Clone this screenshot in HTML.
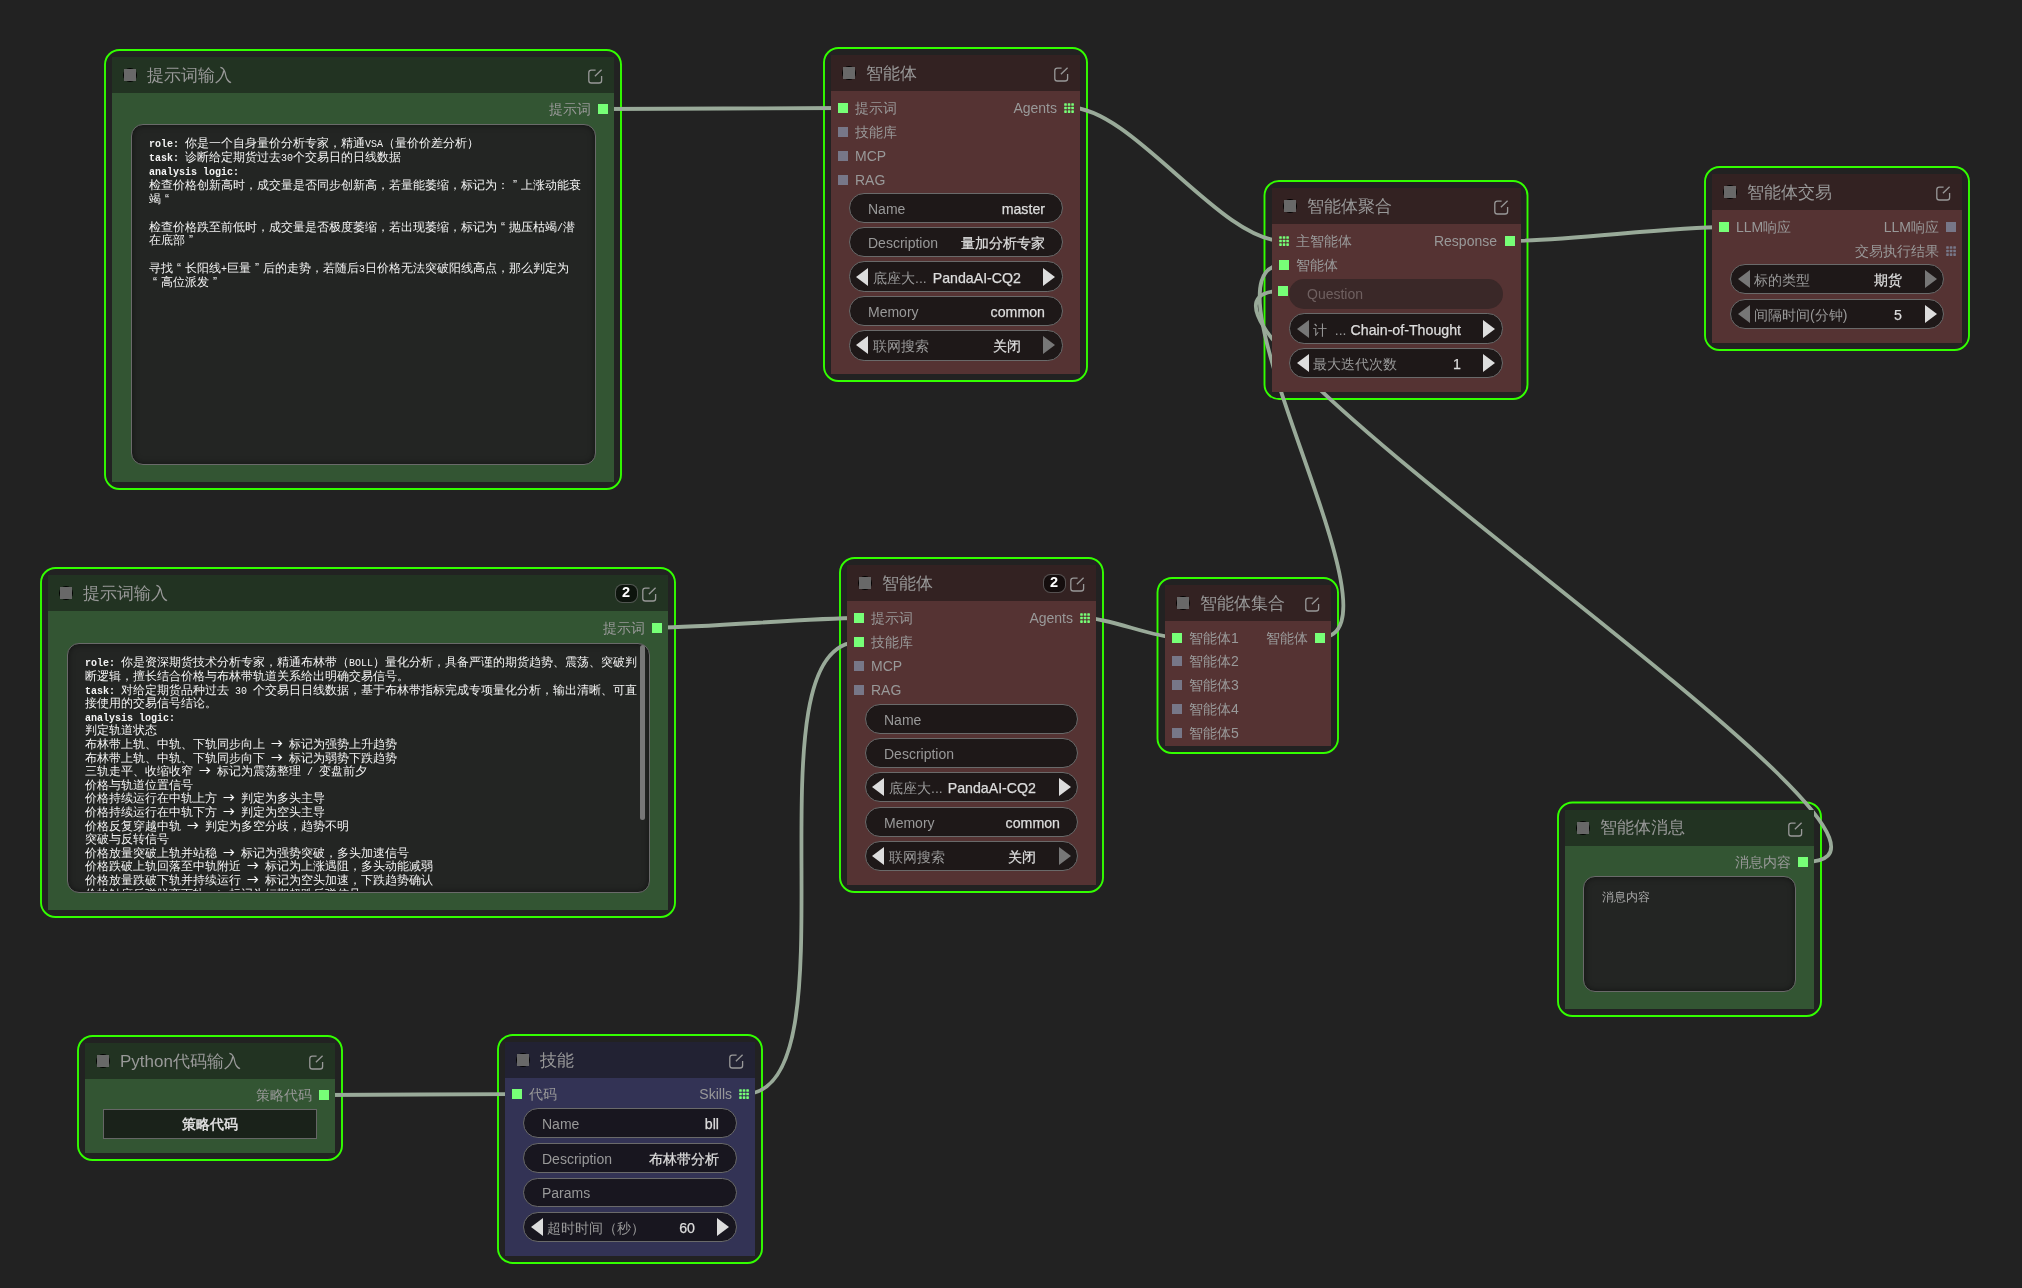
<!DOCTYPE html>
<html><head><meta charset="utf-8"><title>graph</title>
<style>
html,body{margin:0;padding:0;}
body{width:2022px;height:1288px;overflow:hidden;position:relative;background:#222222;font-family:'Liberation Sans', sans-serif;}
div{position:absolute;}
.t{white-space:pre;will-change:transform;}
</style></head><body>
<svg style="position:absolute;left:0;top:0" width="2022" height="1288"><g fill="none" stroke="#33ff00" stroke-width="1.9"><rect x="105.00" y="50.00" width="516.00" height="439.00" rx="14.5" ry="14.5"/><rect x="824.00" y="48.00" width="263.00" height="333.00" rx="14.5" ry="14.5"/><rect x="1264.50" y="181.00" width="263.00" height="218.00" rx="14.5" ry="14.5"/><rect x="1705.00" y="167.00" width="264.00" height="183.00" rx="14.5" ry="14.5"/><rect x="41.00" y="568.00" width="634.00" height="349.00" rx="14.5" ry="14.5"/><rect x="840.00" y="558.00" width="263.00" height="334.00" rx="14.5" ry="14.5"/><rect x="1157.50" y="578.00" width="180.50" height="175.00" rx="14.5" ry="14.5"/><rect x="1558.00" y="802.50" width="263.00" height="213.50" rx="14.5" ry="14.5"/><rect x="78.00" y="1036.00" width="264.00" height="124.00" rx="14.5" ry="14.5"/><rect x="498.00" y="1035.00" width="264.00" height="228.00" rx="14.5" ry="14.5"/></g></svg>
<svg style="position:absolute;left:0;top:0" width="2022" height="1288"><g fill="none" stroke="#99aa99" stroke-width="3.8"><path d="M604 109C663.75 109 783.25 108 843 108"/><path d="M1069.5 107.5C1132.45 107.5 1220.05 241 1283 241"/><path d="M1510 241C1563.61 241 1670.39 227 1724 227"/><path d="M1086 618C1109.14 618 1153.36 637.5 1176.5 637.5"/><path d="M1320 637.5C1413.58 637.5 1189.42 265 1283 265"/><path d="M657 627.5C707.56 627.5 808.44 618 859 618"/><path d="M744 1094C860.60 1094 742.40 642 859 642"/><path d="M324 1095C372.25 1095 468.75 1094 517 1094"/><path d="M1804 862C1997.28 862 1089.72 290.8 1283 290.8"/></g></svg>
<div style="left:112px;top:57px;width:502px;height:425px;background:#335533"></div>
<div style="left:112px;top:57px;width:502px;height:36px;background:#223322"></div>
<div style="left:123px;top:68px;width:14px;height:14px;background:#000;border-radius:7px;filter:blur(0.6px)"></div>
<div style="left:124px;top:69px;width:12px;height:12px;background:#686868"></div>
<div class="t" style="left:147px;top:55.5px;line-height:40px;font-size:17px;color:#999999;font-weight:normal;font-family:'Liberation Sans', sans-serif;">提示词输入</div>
<svg style="position:absolute;left:587.5px;top:69px" width="15" height="15" viewBox="0 0 15 15"><path d="M7.6 1.2H3.4a2.6 2.6 0 0 0-2.6 2.6v7.6a2.6 2.6 0 0 0 2.6 2.6h7.6a2.6 2.6 0 0 0 2.6-2.6V7" fill="none" stroke="#999" stroke-width="1.3"/><path d="M6.9 7.3L13.6 0.8" fill="none" stroke="#999" stroke-width="1.3"/></svg>
<div style="left:598px;top:104px;width:10px;height:10px;background:#77ff77"></div>
<div class="t" style="left:-409.5px;width:1000px;text-align:right;top:89px;line-height:40px;font-size:14px;color:#999999;font-weight:normal;font-family:'Liberation Sans', sans-serif;">提示词</div>
<div style="left:131px;top:124px;width:465px;height:340.5px;background:#232523;border:1px solid #6a6a6a;border-radius:12px;box-sizing:border-box;box-shadow:inset 0 0 6px rgba(0,0,0,0.5)"></div>
<div class="t" style="left:148.5px;top:134.3px;line-height:20px;font-size:12px;color:#f4f4f4;font-family:'Liberation Mono', monospace;white-space:pre"><b style="font-size:10px">role:</b><span style="font-size:10px"> </span>你是一个自身量价分析专家，精通<span style="font-size:10px">VSA</span>（量价价差分析）</div>
<div class="t" style="left:148.5px;top:148.03px;line-height:20px;font-size:12px;color:#f4f4f4;font-family:'Liberation Mono', monospace;white-space:pre"><b style="font-size:10px">task:</b><span style="font-size:10px"> </span>诊断给定期货过去<span style="font-size:10px">30</span>个交易日的日线数据</div>
<div class="t" style="left:148.5px;top:161.76px;line-height:20px;font-size:12px;color:#f4f4f4;font-family:'Liberation Mono', monospace;white-space:pre"><b style="font-size:10px">analysis logic:</b></div>
<div class="t" style="left:148.5px;top:175.49px;line-height:20px;font-size:12px;color:#f4f4f4;font-family:'Liberation Mono', monospace;white-space:pre">检查价格创新高时，成交量是否同步创新高，若量能萎缩，标记为：<span style="display:inline-block;width:12px;text-align:center;font-family:'Liberation Sans', sans-serif">”</span>上涨动能衰</div>
<div class="t" style="left:148.5px;top:189.22px;line-height:20px;font-size:12px;color:#f4f4f4;font-family:'Liberation Mono', monospace;white-space:pre">竭<span style="display:inline-block;width:12px;text-align:center;font-family:'Liberation Sans', sans-serif">“</span></div>
<div class="t" style="left:148.5px;top:202.95px;line-height:20px;font-size:12px;color:#f4f4f4;font-family:'Liberation Mono', monospace;white-space:pre"></div>
<div class="t" style="left:148.5px;top:216.68px;line-height:20px;font-size:12px;color:#f4f4f4;font-family:'Liberation Mono', monospace;white-space:pre">检查价格跌至前低时，成交量是否极度萎缩，若出现萎缩，标记为<span style="display:inline-block;width:12px;text-align:center;font-family:'Liberation Sans', sans-serif">“</span>抛压枯竭<span style="font-size:10px">/</span>潜</div>
<div class="t" style="left:148.5px;top:230.41px;line-height:20px;font-size:12px;color:#f4f4f4;font-family:'Liberation Mono', monospace;white-space:pre">在底部<span style="display:inline-block;width:12px;text-align:center;font-family:'Liberation Sans', sans-serif">”</span></div>
<div class="t" style="left:148.5px;top:244.14px;line-height:20px;font-size:12px;color:#f4f4f4;font-family:'Liberation Mono', monospace;white-space:pre"></div>
<div class="t" style="left:148.5px;top:257.87px;line-height:20px;font-size:12px;color:#f4f4f4;font-family:'Liberation Mono', monospace;white-space:pre">寻找<span style="display:inline-block;width:12px;text-align:center;font-family:'Liberation Sans', sans-serif">“</span>长阳线<span style="font-size:10px">+</span>巨量<span style="display:inline-block;width:12px;text-align:center;font-family:'Liberation Sans', sans-serif">”</span>后的走势，若随后<span style="font-size:10px">3</span>日价格无法突破阳线高点，那么判定为</div>
<div class="t" style="left:148.5px;top:271.6px;line-height:20px;font-size:12px;color:#f4f4f4;font-family:'Liberation Mono', monospace;white-space:pre"><span style="display:inline-block;width:12px;text-align:center;font-family:'Liberation Sans', sans-serif">“</span>高位派发<span style="display:inline-block;width:12px;text-align:center;font-family:'Liberation Sans', sans-serif">”</span></div>
<div style="left:831px;top:55px;width:249px;height:319px;background:#553333"></div>
<div style="left:831px;top:55px;width:249px;height:36px;background:#332222"></div>
<div style="left:842px;top:66px;width:14px;height:14px;background:#000;border-radius:7px;filter:blur(0.6px)"></div>
<div style="left:843px;top:67px;width:12px;height:12px;background:#686868"></div>
<div class="t" style="left:866px;top:53.5px;line-height:40px;font-size:17px;color:#999999;font-weight:normal;font-family:'Liberation Sans', sans-serif;">智能体</div>
<svg style="position:absolute;left:1053.5px;top:67px" width="15" height="15" viewBox="0 0 15 15"><path d="M7.6 1.2H3.4a2.6 2.6 0 0 0-2.6 2.6v7.6a2.6 2.6 0 0 0 2.6 2.6h7.6a2.6 2.6 0 0 0 2.6-2.6V7" fill="none" stroke="#999" stroke-width="1.3"/><path d="M6.9 7.3L13.6 0.8" fill="none" stroke="#999" stroke-width="1.3"/></svg>
<div style="left:838px;top:103px;width:10px;height:10px;background:#77ff77"></div>
<div class="t" style="left:855px;top:88px;line-height:40px;font-size:14px;color:#999999;font-weight:normal;font-family:'Liberation Sans', sans-serif;">提示词</div>
<div style="left:838px;top:127px;width:10px;height:10px;background:#777788"></div>
<div class="t" style="left:855px;top:112px;line-height:40px;font-size:14px;color:#999999;font-weight:normal;font-family:'Liberation Sans', sans-serif;">技能库</div>
<div style="left:838px;top:151px;width:10px;height:10px;background:#777788"></div>
<div class="t" style="left:855px;top:136px;line-height:40px;font-size:14px;color:#999999;font-weight:normal;font-family:'Liberation Sans', sans-serif;">MCP</div>
<div style="left:838px;top:175px;width:10px;height:10px;background:#777788"></div>
<div class="t" style="left:855px;top:160px;line-height:40px;font-size:14px;color:#999999;font-weight:normal;font-family:'Liberation Sans', sans-serif;">RAG</div>
<svg style="position:absolute;left:1064px;top:102.5px" width="10.5" height="10.5" viewBox="0 0 10.5 10.5"><rect x="0.20" y="0.20" width="2.6" height="2.6" rx="0.6" fill="#77ff77"/><rect x="0.20" y="3.75" width="2.6" height="2.6" rx="0.6" fill="#77ff77"/><rect x="0.20" y="7.30" width="2.6" height="2.6" rx="0.6" fill="#77ff77"/><rect x="3.75" y="0.20" width="2.6" height="2.6" rx="0.6" fill="#77ff77"/><rect x="3.75" y="3.75" width="2.6" height="2.6" rx="0.6" fill="#77ff77"/><rect x="3.75" y="7.30" width="2.6" height="2.6" rx="0.6" fill="#77ff77"/><rect x="7.30" y="0.20" width="2.6" height="2.6" rx="0.6" fill="#77ff77"/><rect x="7.30" y="3.75" width="2.6" height="2.6" rx="0.6" fill="#77ff77"/><rect x="7.30" y="7.30" width="2.6" height="2.6" rx="0.6" fill="#77ff77"/></svg>
<div class="t" style="left:56.5px;width:1000px;text-align:right;top:87.5px;line-height:40px;font-size:14px;color:#999999;font-weight:normal;font-family:'Liberation Sans', sans-serif;">Agents</div>
<div style="left:848.5px;top:192.5px;width:214px;height:30.3px;background:#1e1818;border:1px solid #6a6a6a;border-radius:15.15px;box-sizing:border-box"></div>
<div class="t" style="left:867.5px;top:188.65px;line-height:40px;font-size:14px;color:#999999;font-weight:normal;font-family:'Liberation Sans', sans-serif;">Name</div>
<div class="t" style="left:44.5px;width:1000px;text-align:right;top:188.65px;line-height:40px;font-size:14.2px;color:#dddddd;font-weight:normal;font-family:'Liberation Sans', sans-serif;-webkit-text-stroke:0.25px #ddd">master</div>
<div style="left:848.5px;top:226.93px;width:214px;height:30.3px;background:#1e1818;border:1px solid #6a6a6a;border-radius:15.15px;box-sizing:border-box"></div>
<div class="t" style="left:867.5px;top:223.08px;line-height:40px;font-size:14px;color:#999999;font-weight:normal;font-family:'Liberation Sans', sans-serif;">Description</div>
<div class="t" style="left:44.5px;width:1000px;text-align:right;top:223.08px;line-height:40px;font-size:14.2px;color:#dddddd;font-weight:normal;font-family:'Liberation Sans', sans-serif;-webkit-text-stroke:0.25px #ddd">量加分析专家</div>
<div style="left:848.5px;top:261.36px;width:214px;height:30.3px;background:#1e1818;border:1px solid #6a6a6a;border-radius:15.15px;box-sizing:border-box"></div>
<svg style="position:absolute;left:856px;top:267.51px" width="13" height="18" viewBox="0 0 13 18"><polygon points="12,0 0,9 12,18" fill="#dddddd"/></svg>
<svg style="position:absolute;left:1043px;top:267.51px" width="13" height="18" viewBox="0 0 13 18"><polygon points="0,0 12,9 0,18" fill="#dddddd"/></svg>
<div class="t" style="left:872.5px;top:257.51px;line-height:40px;font-size:14px;color:#999999;font-weight:normal;font-family:'Liberation Sans', sans-serif;">底座大...</div>
<div class="t" style="left:20.5px;width:1000px;text-align:right;top:257.51px;line-height:40px;font-size:14.2px;color:#dddddd;font-weight:normal;font-family:'Liberation Sans', sans-serif;-webkit-text-stroke:0.25px #ddd">PandaAI-CQ2</div>
<div style="left:848.5px;top:295.79px;width:214px;height:30.3px;background:#1e1818;border:1px solid #6a6a6a;border-radius:15.15px;box-sizing:border-box"></div>
<div class="t" style="left:867.5px;top:291.94px;line-height:40px;font-size:14px;color:#999999;font-weight:normal;font-family:'Liberation Sans', sans-serif;">Memory</div>
<div class="t" style="left:44.5px;width:1000px;text-align:right;top:291.94px;line-height:40px;font-size:14.2px;color:#dddddd;font-weight:normal;font-family:'Liberation Sans', sans-serif;-webkit-text-stroke:0.25px #ddd">common</div>
<div style="left:848.5px;top:330.22px;width:214px;height:30.3px;background:#1e1818;border:1px solid #6a6a6a;border-radius:15.15px;box-sizing:border-box"></div>
<svg style="position:absolute;left:856px;top:336.37px" width="13" height="18" viewBox="0 0 13 18"><polygon points="12,0 0,9 12,18" fill="#dddddd"/></svg>
<svg style="position:absolute;left:1043px;top:336.37px" width="13" height="18" viewBox="0 0 13 18"><polygon points="0,0 12,9 0,18" fill="#777777"/></svg>
<div class="t" style="left:872.5px;top:326.37px;line-height:40px;font-size:14px;color:#999999;font-weight:normal;font-family:'Liberation Sans', sans-serif;">联网搜索</div>
<div class="t" style="left:20.5px;width:1000px;text-align:right;top:326.37px;line-height:40px;font-size:14.2px;color:#dddddd;font-weight:normal;font-family:'Liberation Sans', sans-serif;-webkit-text-stroke:0.25px #ddd">关闭</div>
<div style="left:1271.5px;top:188px;width:249px;height:204px;background:#553333"></div>
<div style="left:1271.5px;top:188px;width:249px;height:36px;background:#332222"></div>
<div style="left:1282.5px;top:199px;width:14px;height:14px;background:#000;border-radius:7px;filter:blur(0.6px)"></div>
<div style="left:1283.5px;top:200px;width:12px;height:12px;background:#686868"></div>
<div class="t" style="left:1306.5px;top:186.5px;line-height:40px;font-size:17px;color:#999999;font-weight:normal;font-family:'Liberation Sans', sans-serif;">智能体聚合</div>
<svg style="position:absolute;left:1494px;top:200px" width="15" height="15" viewBox="0 0 15 15"><path d="M7.6 1.2H3.4a2.6 2.6 0 0 0-2.6 2.6v7.6a2.6 2.6 0 0 0 2.6 2.6h7.6a2.6 2.6 0 0 0 2.6-2.6V7" fill="none" stroke="#999" stroke-width="1.3"/><path d="M6.9 7.3L13.6 0.8" fill="none" stroke="#999" stroke-width="1.3"/></svg>
<svg style="position:absolute;left:1278.5px;top:236px" width="10.5" height="10.5" viewBox="0 0 10.5 10.5"><rect x="0.20" y="0.20" width="2.6" height="2.6" rx="0.6" fill="#77ff77"/><rect x="0.20" y="3.75" width="2.6" height="2.6" rx="0.6" fill="#77ff77"/><rect x="0.20" y="7.30" width="2.6" height="2.6" rx="0.6" fill="#77ff77"/><rect x="3.75" y="0.20" width="2.6" height="2.6" rx="0.6" fill="#77ff77"/><rect x="3.75" y="3.75" width="2.6" height="2.6" rx="0.6" fill="#77ff77"/><rect x="3.75" y="7.30" width="2.6" height="2.6" rx="0.6" fill="#77ff77"/><rect x="7.30" y="0.20" width="2.6" height="2.6" rx="0.6" fill="#77ff77"/><rect x="7.30" y="3.75" width="2.6" height="2.6" rx="0.6" fill="#77ff77"/><rect x="7.30" y="7.30" width="2.6" height="2.6" rx="0.6" fill="#77ff77"/></svg>
<div class="t" style="left:1295.5px;top:221px;line-height:40px;font-size:14px;color:#999999;font-weight:normal;font-family:'Liberation Sans', sans-serif;">主智能体</div>
<div style="left:1278.5px;top:260px;width:10px;height:10px;background:#77ff77"></div>
<div class="t" style="left:1295.5px;top:245px;line-height:40px;font-size:14px;color:#999999;font-weight:normal;font-family:'Liberation Sans', sans-serif;">智能体</div>
<div style="left:1278px;top:285.8px;width:10px;height:10px;background:#77ff77"></div>
<div style="left:1504.5px;top:236px;width:10px;height:10px;background:#77ff77"></div>
<div class="t" style="left:497px;width:1000px;text-align:right;top:221px;line-height:40px;font-size:14px;color:#999999;font-weight:normal;font-family:'Liberation Sans', sans-serif;">Response</div>
<div style="left:1289px;top:279px;width:213.5px;height:30px;background:#3a2828;border-radius:15px"></div>
<div class="t" style="left:1307px;top:274px;line-height:40px;font-size:14px;color:#6f6060;font-weight:normal;font-family:'Liberation Sans', sans-serif;">Question</div>
<div style="left:1289px;top:313.4px;width:213.5px;height:30.3px;background:#1e1818;border:1px solid #6a6a6a;border-radius:15.15px;box-sizing:border-box"></div>
<svg style="position:absolute;left:1296.5px;top:319.55px" width="13" height="18" viewBox="0 0 13 18"><polygon points="12,0 0,9 12,18" fill="#777777"/></svg>
<svg style="position:absolute;left:1483px;top:319.55px" width="13" height="18" viewBox="0 0 13 18"><polygon points="0,0 12,9 0,18" fill="#dddddd"/></svg>
<div class="t" style="left:1313px;top:309.55px;line-height:40px;font-size:14px;color:#999999;font-weight:normal;font-family:'Liberation Sans', sans-serif;">计  ...</div>
<div class="t" style="left:460.5px;width:1000px;text-align:right;top:309.55px;line-height:40px;font-size:14.2px;color:#dddddd;font-weight:normal;font-family:'Liberation Sans', sans-serif;-webkit-text-stroke:0.25px #ddd">Chain-of-Thought</div>
<div style="left:1289px;top:347.8px;width:213.5px;height:30.3px;background:#1e1818;border:1px solid #6a6a6a;border-radius:15.15px;box-sizing:border-box"></div>
<svg style="position:absolute;left:1296.5px;top:353.95px" width="13" height="18" viewBox="0 0 13 18"><polygon points="12,0 0,9 12,18" fill="#dddddd"/></svg>
<svg style="position:absolute;left:1483px;top:353.95px" width="13" height="18" viewBox="0 0 13 18"><polygon points="0,0 12,9 0,18" fill="#dddddd"/></svg>
<div class="t" style="left:1313px;top:343.95px;line-height:40px;font-size:14px;color:#999999;font-weight:normal;font-family:'Liberation Sans', sans-serif;">最大迭代次数</div>
<div class="t" style="left:460.5px;width:1000px;text-align:right;top:343.95px;line-height:40px;font-size:14.2px;color:#dddddd;font-weight:normal;font-family:'Liberation Sans', sans-serif;-webkit-text-stroke:0.25px #ddd">1</div>
<div style="left:1712px;top:174px;width:250px;height:169px;background:#553333"></div>
<div style="left:1712px;top:174px;width:250px;height:36px;background:#332222"></div>
<div style="left:1723px;top:185px;width:14px;height:14px;background:#000;border-radius:7px;filter:blur(0.6px)"></div>
<div style="left:1724px;top:186px;width:12px;height:12px;background:#686868"></div>
<div class="t" style="left:1747px;top:172.5px;line-height:40px;font-size:17px;color:#999999;font-weight:normal;font-family:'Liberation Sans', sans-serif;">智能体交易</div>
<svg style="position:absolute;left:1935.5px;top:186px" width="15" height="15" viewBox="0 0 15 15"><path d="M7.6 1.2H3.4a2.6 2.6 0 0 0-2.6 2.6v7.6a2.6 2.6 0 0 0 2.6 2.6h7.6a2.6 2.6 0 0 0 2.6-2.6V7" fill="none" stroke="#999" stroke-width="1.3"/><path d="M6.9 7.3L13.6 0.8" fill="none" stroke="#999" stroke-width="1.3"/></svg>
<div style="left:1719px;top:222px;width:10px;height:10px;background:#77ff77"></div>
<div class="t" style="left:1736px;top:207px;line-height:40px;font-size:14px;color:#999999;font-weight:normal;font-family:'Liberation Sans', sans-serif;">LLM响应</div>
<div style="left:1946px;top:222px;width:10px;height:10px;background:#777788"></div>
<div class="t" style="left:938.5px;width:1000px;text-align:right;top:207px;line-height:40px;font-size:14px;color:#999999;font-weight:normal;font-family:'Liberation Sans', sans-serif;">LLM响应</div>
<svg style="position:absolute;left:1946px;top:245.5px" width="10.5" height="10.5" viewBox="0 0 10.5 10.5"><rect x="0.20" y="0.20" width="2.6" height="2.6" rx="0.6" fill="#777788"/><rect x="0.20" y="3.75" width="2.6" height="2.6" rx="0.6" fill="#777788"/><rect x="0.20" y="7.30" width="2.6" height="2.6" rx="0.6" fill="#777788"/><rect x="3.75" y="0.20" width="2.6" height="2.6" rx="0.6" fill="#777788"/><rect x="3.75" y="3.75" width="2.6" height="2.6" rx="0.6" fill="#777788"/><rect x="3.75" y="7.30" width="2.6" height="2.6" rx="0.6" fill="#777788"/><rect x="7.30" y="0.20" width="2.6" height="2.6" rx="0.6" fill="#777788"/><rect x="7.30" y="3.75" width="2.6" height="2.6" rx="0.6" fill="#777788"/><rect x="7.30" y="7.30" width="2.6" height="2.6" rx="0.6" fill="#777788"/></svg>
<div class="t" style="left:938.5px;width:1000px;text-align:right;top:230.5px;line-height:40px;font-size:14px;color:#999999;font-weight:normal;font-family:'Liberation Sans', sans-serif;">交易执行结果</div>
<div style="left:1730px;top:264.3px;width:214px;height:30.2px;background:#1e1818;border:1px solid #6a6a6a;border-radius:15.1px;box-sizing:border-box"></div>
<svg style="position:absolute;left:1737.5px;top:270.4px" width="13" height="18" viewBox="0 0 13 18"><polygon points="12,0 0,9 12,18" fill="#777777"/></svg>
<svg style="position:absolute;left:1924.5px;top:270.4px" width="13" height="18" viewBox="0 0 13 18"><polygon points="0,0 12,9 0,18" fill="#777777"/></svg>
<div class="t" style="left:1754px;top:260.4px;line-height:40px;font-size:14px;color:#999999;font-weight:normal;font-family:'Liberation Sans', sans-serif;">标的类型</div>
<div class="t" style="left:902px;width:1000px;text-align:right;top:260.4px;line-height:40px;font-size:14.2px;color:#dddddd;font-weight:normal;font-family:'Liberation Sans', sans-serif;-webkit-text-stroke:0.25px #ddd">期货</div>
<div style="left:1730px;top:299px;width:214px;height:30.2px;background:#1e1818;border:1px solid #6a6a6a;border-radius:15.1px;box-sizing:border-box"></div>
<svg style="position:absolute;left:1737.5px;top:305.1px" width="13" height="18" viewBox="0 0 13 18"><polygon points="12,0 0,9 12,18" fill="#777777"/></svg>
<svg style="position:absolute;left:1924.5px;top:305.1px" width="13" height="18" viewBox="0 0 13 18"><polygon points="0,0 12,9 0,18" fill="#dddddd"/></svg>
<div class="t" style="left:1754px;top:295.1px;line-height:40px;font-size:14px;color:#999999;font-weight:normal;font-family:'Liberation Sans', sans-serif;">间隔时间(分钟)</div>
<div class="t" style="left:902px;width:1000px;text-align:right;top:295.1px;line-height:40px;font-size:14.2px;color:#dddddd;font-weight:normal;font-family:'Liberation Sans', sans-serif;-webkit-text-stroke:0.25px #ddd">5</div>
<div style="left:48px;top:575px;width:620px;height:335px;background:#335533"></div>
<div style="left:48px;top:575px;width:620px;height:36px;background:#223322"></div>
<div style="left:59px;top:586px;width:14px;height:14px;background:#000;border-radius:7px;filter:blur(0.6px)"></div>
<div style="left:60px;top:587px;width:12px;height:12px;background:#686868"></div>
<div class="t" style="left:83px;top:573.5px;line-height:40px;font-size:17px;color:#999999;font-weight:normal;font-family:'Liberation Sans', sans-serif;">提示词输入</div>
<svg style="position:absolute;left:641.5px;top:587px" width="15" height="15" viewBox="0 0 15 15"><path d="M7.6 1.2H3.4a2.6 2.6 0 0 0-2.6 2.6v7.6a2.6 2.6 0 0 0 2.6 2.6h7.6a2.6 2.6 0 0 0 2.6-2.6V7" fill="none" stroke="#999" stroke-width="1.3"/><path d="M6.9 7.3L13.6 0.8" fill="none" stroke="#999" stroke-width="1.3"/></svg>
<div style="left:614.5px;top:583.5px;width:23.5px;height:19px;background:rgba(0,0,0,0.6);border:1.5px solid rgba(255,255,255,0.28);border-radius:7.5px;box-sizing:border-box"></div>
<div class="t" style="left:126.25px;width:1000px;text-align:center;top:571.5px;line-height:40px;font-size:14.5px;color:#fff;font-weight:bold;font-family:'Liberation Sans', sans-serif;">2</div>
<div style="left:652px;top:622.5px;width:10px;height:10px;background:#77ff77"></div>
<div class="t" style="left:-355.5px;width:1000px;text-align:right;top:607.5px;line-height:40px;font-size:14px;color:#999999;font-weight:normal;font-family:'Liberation Sans', sans-serif;">提示词</div>
<div style="left:66.5px;top:643.2px;width:583px;height:250px;background:#232523;border:1px solid #6a6a6a;border-radius:12px;box-sizing:border-box;box-shadow:inset 0 0 6px rgba(0,0,0,0.5)"></div>
<div style="left:67.5px;top:644.2px;width:581px;height:247px;overflow:hidden;border-radius:11px">
<div class="t" style="left:17.3px;top:9.2px;line-height:20px;font-size:12px;color:#f4f4f4;font-family:'Liberation Mono', monospace;white-space:pre"><b style="font-size:10px">role:</b><span style="font-size:10px"> </span>你是资深期货技术分析专家，精通布林带（<span style="font-size:10px">BOLL</span>）量化分析，具备严谨的期货趋势、震荡、突破判</div>
<div class="t" style="left:17.3px;top:22.8px;line-height:20px;font-size:12px;color:#f4f4f4;font-family:'Liberation Mono', monospace;white-space:pre">断逻辑，擅长结合价格与布林带轨道关系给出明确交易信号。</div>
<div class="t" style="left:17.3px;top:36.4px;line-height:20px;font-size:12px;color:#f4f4f4;font-family:'Liberation Mono', monospace;white-space:pre"><b style="font-size:10px">task:</b><span style="font-size:10px"> </span>对给定期货品种过去<span style="font-size:10px"> 30 </span>个交易日日线数据，基于布林带指标完成专项量化分析，输出清晰、可直</div>
<div class="t" style="left:17.3px;top:50px;line-height:20px;font-size:12px;color:#f4f4f4;font-family:'Liberation Mono', monospace;white-space:pre">接使用的交易信号结论。</div>
<div class="t" style="left:17.3px;top:63.6px;line-height:20px;font-size:12px;color:#f4f4f4;font-family:'Liberation Mono', monospace;white-space:pre"><b style="font-size:10px">analysis logic:</b></div>
<div class="t" style="left:17.3px;top:77.2px;line-height:20px;font-size:12px;color:#f4f4f4;font-family:'Liberation Mono', monospace;white-space:pre">判定轨道状态</div>
<div class="t" style="left:17.3px;top:90.8px;line-height:20px;font-size:12px;color:#f4f4f4;font-family:'Liberation Mono', monospace;white-space:pre">布林带上轨、中轨、下轨同步向上<span style="font-size:10px"> </span><svg width="12" height="12" viewBox="0 0 12 12" style="vertical-align:-1px"><path d="M0.5 6.5H10.5M7.5 3.5L10.5 6.5L7.5 9.5" stroke="#f4f4f4" fill="none" stroke-width="1.2"/></svg><span style="font-size:10px"> </span>标记为强势上升趋势</div>
<div class="t" style="left:17.3px;top:104.4px;line-height:20px;font-size:12px;color:#f4f4f4;font-family:'Liberation Mono', monospace;white-space:pre">布林带上轨、中轨、下轨同步向下<span style="font-size:10px"> </span><svg width="12" height="12" viewBox="0 0 12 12" style="vertical-align:-1px"><path d="M0.5 6.5H10.5M7.5 3.5L10.5 6.5L7.5 9.5" stroke="#f4f4f4" fill="none" stroke-width="1.2"/></svg><span style="font-size:10px"> </span>标记为弱势下跌趋势</div>
<div class="t" style="left:17.3px;top:118px;line-height:20px;font-size:12px;color:#f4f4f4;font-family:'Liberation Mono', monospace;white-space:pre">三轨走平、收缩收窄<span style="font-size:10px"> </span><svg width="12" height="12" viewBox="0 0 12 12" style="vertical-align:-1px"><path d="M0.5 6.5H10.5M7.5 3.5L10.5 6.5L7.5 9.5" stroke="#f4f4f4" fill="none" stroke-width="1.2"/></svg><span style="font-size:10px"> </span>标记为震荡整理<span style="font-size:10px"> / </span>变盘前夕</div>
<div class="t" style="left:17.3px;top:131.6px;line-height:20px;font-size:12px;color:#f4f4f4;font-family:'Liberation Mono', monospace;white-space:pre">价格与轨道位置信号</div>
<div class="t" style="left:17.3px;top:145.2px;line-height:20px;font-size:12px;color:#f4f4f4;font-family:'Liberation Mono', monospace;white-space:pre">价格持续运行在中轨上方<span style="font-size:10px"> </span><svg width="12" height="12" viewBox="0 0 12 12" style="vertical-align:-1px"><path d="M0.5 6.5H10.5M7.5 3.5L10.5 6.5L7.5 9.5" stroke="#f4f4f4" fill="none" stroke-width="1.2"/></svg><span style="font-size:10px"> </span>判定为多头主导</div>
<div class="t" style="left:17.3px;top:158.8px;line-height:20px;font-size:12px;color:#f4f4f4;font-family:'Liberation Mono', monospace;white-space:pre">价格持续运行在中轨下方<span style="font-size:10px"> </span><svg width="12" height="12" viewBox="0 0 12 12" style="vertical-align:-1px"><path d="M0.5 6.5H10.5M7.5 3.5L10.5 6.5L7.5 9.5" stroke="#f4f4f4" fill="none" stroke-width="1.2"/></svg><span style="font-size:10px"> </span>判定为空头主导</div>
<div class="t" style="left:17.3px;top:172.4px;line-height:20px;font-size:12px;color:#f4f4f4;font-family:'Liberation Mono', monospace;white-space:pre">价格反复穿越中轨<span style="font-size:10px"> </span><svg width="12" height="12" viewBox="0 0 12 12" style="vertical-align:-1px"><path d="M0.5 6.5H10.5M7.5 3.5L10.5 6.5L7.5 9.5" stroke="#f4f4f4" fill="none" stroke-width="1.2"/></svg><span style="font-size:10px"> </span>判定为多空分歧，趋势不明</div>
<div class="t" style="left:17.3px;top:186px;line-height:20px;font-size:12px;color:#f4f4f4;font-family:'Liberation Mono', monospace;white-space:pre">突破与反转信号</div>
<div class="t" style="left:17.3px;top:199.6px;line-height:20px;font-size:12px;color:#f4f4f4;font-family:'Liberation Mono', monospace;white-space:pre">价格放量突破上轨并站稳<span style="font-size:10px"> </span><svg width="12" height="12" viewBox="0 0 12 12" style="vertical-align:-1px"><path d="M0.5 6.5H10.5M7.5 3.5L10.5 6.5L7.5 9.5" stroke="#f4f4f4" fill="none" stroke-width="1.2"/></svg><span style="font-size:10px"> </span>标记为强势突破，多头加速信号</div>
<div class="t" style="left:17.3px;top:213.2px;line-height:20px;font-size:12px;color:#f4f4f4;font-family:'Liberation Mono', monospace;white-space:pre">价格跌破上轨回落至中轨附近<span style="font-size:10px"> </span><svg width="12" height="12" viewBox="0 0 12 12" style="vertical-align:-1px"><path d="M0.5 6.5H10.5M7.5 3.5L10.5 6.5L7.5 9.5" stroke="#f4f4f4" fill="none" stroke-width="1.2"/></svg><span style="font-size:10px"> </span>标记为上涨遇阻，多头动能减弱</div>
<div class="t" style="left:17.3px;top:226.8px;line-height:20px;font-size:12px;color:#f4f4f4;font-family:'Liberation Mono', monospace;white-space:pre">价格放量跌破下轨并持续运行<span style="font-size:10px"> </span><svg width="12" height="12" viewBox="0 0 12 12" style="vertical-align:-1px"><path d="M0.5 6.5H10.5M7.5 3.5L10.5 6.5L7.5 9.5" stroke="#f4f4f4" fill="none" stroke-width="1.2"/></svg><span style="font-size:10px"> </span>标记为空头加速，下跌趋势确认</div>
<div class="t" style="left:17.3px;top:240.4px;line-height:20px;font-size:12px;color:#f4f4f4;font-family:'Liberation Mono', monospace;white-space:pre">价格触底反弹脱离下轨<span style="font-size:10px"> </span><svg width="12" height="12" viewBox="0 0 12 12" style="vertical-align:-1px"><path d="M0.5 6.5H10.5M7.5 3.5L10.5 6.5L7.5 9.5" stroke="#f4f4f4" fill="none" stroke-width="1.2"/></svg><span style="font-size:10px"> </span>标记为短期超跌反弹信号</div>
</div>
<div style="left:640px;top:644.5px;width:5px;height:175px;background:#777;border-radius:3px"></div>
<div style="left:847px;top:565px;width:249px;height:320px;background:#553333"></div>
<div style="left:847px;top:565px;width:249px;height:36px;background:#332222"></div>
<div style="left:858px;top:576px;width:14px;height:14px;background:#000;border-radius:7px;filter:blur(0.6px)"></div>
<div style="left:859px;top:577px;width:12px;height:12px;background:#686868"></div>
<div class="t" style="left:882px;top:563.5px;line-height:40px;font-size:17px;color:#999999;font-weight:normal;font-family:'Liberation Sans', sans-serif;">智能体</div>
<svg style="position:absolute;left:1069.5px;top:577px" width="15" height="15" viewBox="0 0 15 15"><path d="M7.6 1.2H3.4a2.6 2.6 0 0 0-2.6 2.6v7.6a2.6 2.6 0 0 0 2.6 2.6h7.6a2.6 2.6 0 0 0 2.6-2.6V7" fill="none" stroke="#999" stroke-width="1.3"/><path d="M6.9 7.3L13.6 0.8" fill="none" stroke="#999" stroke-width="1.3"/></svg>
<div style="left:1042.5px;top:573.5px;width:23.5px;height:19px;background:rgba(0,0,0,0.6);border:1.5px solid rgba(255,255,255,0.28);border-radius:7.5px;box-sizing:border-box"></div>
<div class="t" style="left:554.25px;width:1000px;text-align:center;top:561.5px;line-height:40px;font-size:14.5px;color:#fff;font-weight:bold;font-family:'Liberation Sans', sans-serif;">2</div>
<div style="left:854px;top:613px;width:10px;height:10px;background:#77ff77"></div>
<div class="t" style="left:871px;top:598px;line-height:40px;font-size:14px;color:#999999;font-weight:normal;font-family:'Liberation Sans', sans-serif;">提示词</div>
<div style="left:854px;top:637px;width:10px;height:10px;background:#77ff77"></div>
<div class="t" style="left:871px;top:622px;line-height:40px;font-size:14px;color:#999999;font-weight:normal;font-family:'Liberation Sans', sans-serif;">技能库</div>
<div style="left:854px;top:661px;width:10px;height:10px;background:#777788"></div>
<div class="t" style="left:871px;top:646px;line-height:40px;font-size:14px;color:#999999;font-weight:normal;font-family:'Liberation Sans', sans-serif;">MCP</div>
<div style="left:854px;top:685px;width:10px;height:10px;background:#777788"></div>
<div class="t" style="left:871px;top:670px;line-height:40px;font-size:14px;color:#999999;font-weight:normal;font-family:'Liberation Sans', sans-serif;">RAG</div>
<svg style="position:absolute;left:1080px;top:613px" width="10.5" height="10.5" viewBox="0 0 10.5 10.5"><rect x="0.20" y="0.20" width="2.6" height="2.6" rx="0.6" fill="#77ff77"/><rect x="0.20" y="3.75" width="2.6" height="2.6" rx="0.6" fill="#77ff77"/><rect x="0.20" y="7.30" width="2.6" height="2.6" rx="0.6" fill="#77ff77"/><rect x="3.75" y="0.20" width="2.6" height="2.6" rx="0.6" fill="#77ff77"/><rect x="3.75" y="3.75" width="2.6" height="2.6" rx="0.6" fill="#77ff77"/><rect x="3.75" y="7.30" width="2.6" height="2.6" rx="0.6" fill="#77ff77"/><rect x="7.30" y="0.20" width="2.6" height="2.6" rx="0.6" fill="#77ff77"/><rect x="7.30" y="3.75" width="2.6" height="2.6" rx="0.6" fill="#77ff77"/><rect x="7.30" y="7.30" width="2.6" height="2.6" rx="0.6" fill="#77ff77"/></svg>
<div class="t" style="left:72.5px;width:1000px;text-align:right;top:598px;line-height:40px;font-size:14px;color:#999999;font-weight:normal;font-family:'Liberation Sans', sans-serif;">Agents</div>
<div style="left:864.5px;top:703.5px;width:213.5px;height:30px;background:#1e1818;border:1px solid #6a6a6a;border-radius:15px;box-sizing:border-box"></div>
<div class="t" style="left:883.5px;top:699.5px;line-height:40px;font-size:14px;color:#999999;font-weight:normal;font-family:'Liberation Sans', sans-serif;">Name</div>
<div style="left:864.5px;top:737.93px;width:213.5px;height:30px;background:#1e1818;border:1px solid #6a6a6a;border-radius:15px;box-sizing:border-box"></div>
<div class="t" style="left:883.5px;top:733.93px;line-height:40px;font-size:14px;color:#999999;font-weight:normal;font-family:'Liberation Sans', sans-serif;">Description</div>
<div style="left:864.5px;top:772.36px;width:213.5px;height:30px;background:#1e1818;border:1px solid #6a6a6a;border-radius:15px;box-sizing:border-box"></div>
<svg style="position:absolute;left:872px;top:778.36px" width="13" height="18" viewBox="0 0 13 18"><polygon points="12,0 0,9 12,18" fill="#dddddd"/></svg>
<svg style="position:absolute;left:1058.5px;top:778.36px" width="13" height="18" viewBox="0 0 13 18"><polygon points="0,0 12,9 0,18" fill="#dddddd"/></svg>
<div class="t" style="left:888.5px;top:768.36px;line-height:40px;font-size:14px;color:#999999;font-weight:normal;font-family:'Liberation Sans', sans-serif;">底座大...</div>
<div class="t" style="left:36px;width:1000px;text-align:right;top:768.36px;line-height:40px;font-size:14.2px;color:#dddddd;font-weight:normal;font-family:'Liberation Sans', sans-serif;-webkit-text-stroke:0.25px #ddd">PandaAI-CQ2</div>
<div style="left:864.5px;top:806.79px;width:213.5px;height:30px;background:#1e1818;border:1px solid #6a6a6a;border-radius:15px;box-sizing:border-box"></div>
<div class="t" style="left:883.5px;top:802.79px;line-height:40px;font-size:14px;color:#999999;font-weight:normal;font-family:'Liberation Sans', sans-serif;">Memory</div>
<div class="t" style="left:60px;width:1000px;text-align:right;top:802.79px;line-height:40px;font-size:14.2px;color:#dddddd;font-weight:normal;font-family:'Liberation Sans', sans-serif;-webkit-text-stroke:0.25px #ddd">common</div>
<div style="left:864.5px;top:841.22px;width:213.5px;height:30px;background:#1e1818;border:1px solid #6a6a6a;border-radius:15px;box-sizing:border-box"></div>
<svg style="position:absolute;left:872px;top:847.22px" width="13" height="18" viewBox="0 0 13 18"><polygon points="12,0 0,9 12,18" fill="#dddddd"/></svg>
<svg style="position:absolute;left:1058.5px;top:847.22px" width="13" height="18" viewBox="0 0 13 18"><polygon points="0,0 12,9 0,18" fill="#777777"/></svg>
<div class="t" style="left:888.5px;top:837.22px;line-height:40px;font-size:14px;color:#999999;font-weight:normal;font-family:'Liberation Sans', sans-serif;">联网搜索</div>
<div class="t" style="left:36px;width:1000px;text-align:right;top:837.22px;line-height:40px;font-size:14.2px;color:#dddddd;font-weight:normal;font-family:'Liberation Sans', sans-serif;-webkit-text-stroke:0.25px #ddd">关闭</div>
<div style="left:1164.5px;top:585px;width:166.5px;height:161px;background:#553333"></div>
<div style="left:1164.5px;top:585px;width:166.5px;height:36px;background:#332222"></div>
<div style="left:1175.5px;top:596px;width:14px;height:14px;background:#000;border-radius:7px;filter:blur(0.6px)"></div>
<div style="left:1176.5px;top:597px;width:12px;height:12px;background:#686868"></div>
<div class="t" style="left:1199.5px;top:583.5px;line-height:40px;font-size:17px;color:#999999;font-weight:normal;font-family:'Liberation Sans', sans-serif;">智能体集合</div>
<svg style="position:absolute;left:1304.5px;top:597px" width="15" height="15" viewBox="0 0 15 15"><path d="M7.6 1.2H3.4a2.6 2.6 0 0 0-2.6 2.6v7.6a2.6 2.6 0 0 0 2.6 2.6h7.6a2.6 2.6 0 0 0 2.6-2.6V7" fill="none" stroke="#999" stroke-width="1.3"/><path d="M6.9 7.3L13.6 0.8" fill="none" stroke="#999" stroke-width="1.3"/></svg>
<div style="left:1171.5px;top:632.5px;width:10px;height:10px;background:#77ff77"></div>
<div class="t" style="left:1188.5px;top:617.5px;line-height:40px;font-size:14px;color:#999999;font-weight:normal;font-family:'Liberation Sans', sans-serif;">智能体1</div>
<div style="left:1171.5px;top:656.3px;width:10px;height:10px;background:#777788"></div>
<div class="t" style="left:1188.5px;top:641.3px;line-height:40px;font-size:14px;color:#999999;font-weight:normal;font-family:'Liberation Sans', sans-serif;">智能体2</div>
<div style="left:1171.5px;top:680.1px;width:10px;height:10px;background:#777788"></div>
<div class="t" style="left:1188.5px;top:665.1px;line-height:40px;font-size:14px;color:#999999;font-weight:normal;font-family:'Liberation Sans', sans-serif;">智能体3</div>
<div style="left:1171.5px;top:703.9px;width:10px;height:10px;background:#777788"></div>
<div class="t" style="left:1188.5px;top:688.9px;line-height:40px;font-size:14px;color:#999999;font-weight:normal;font-family:'Liberation Sans', sans-serif;">智能体4</div>
<div style="left:1171.5px;top:727.7px;width:10px;height:10px;background:#777788"></div>
<div class="t" style="left:1188.5px;top:712.7px;line-height:40px;font-size:14px;color:#999999;font-weight:normal;font-family:'Liberation Sans', sans-serif;">智能体5</div>
<div style="left:1315px;top:632.5px;width:10px;height:10px;background:#77ff77"></div>
<div class="t" style="left:307.5px;width:1000px;text-align:right;top:617.5px;line-height:40px;font-size:14px;color:#999999;font-weight:normal;font-family:'Liberation Sans', sans-serif;">智能体</div>
<div style="left:1565px;top:809.5px;width:249px;height:199.5px;background:#335533"></div>
<div style="left:1565px;top:809.5px;width:249px;height:36px;background:#223322"></div>
<div style="left:1576px;top:820.5px;width:14px;height:14px;background:#000;border-radius:7px;filter:blur(0.6px)"></div>
<div style="left:1577px;top:821.5px;width:12px;height:12px;background:#686868"></div>
<div class="t" style="left:1600px;top:808px;line-height:40px;font-size:17px;color:#999999;font-weight:normal;font-family:'Liberation Sans', sans-serif;">智能体消息</div>
<svg style="position:absolute;left:1787.5px;top:821.5px" width="15" height="15" viewBox="0 0 15 15"><path d="M7.6 1.2H3.4a2.6 2.6 0 0 0-2.6 2.6v7.6a2.6 2.6 0 0 0 2.6 2.6h7.6a2.6 2.6 0 0 0 2.6-2.6V7" fill="none" stroke="#999" stroke-width="1.3"/><path d="M6.9 7.3L13.6 0.8" fill="none" stroke="#999" stroke-width="1.3"/></svg>
<div style="left:1798px;top:857px;width:10px;height:10px;background:#77ff77"></div>
<div class="t" style="left:790.5px;width:1000px;text-align:right;top:842px;line-height:40px;font-size:14px;color:#999999;font-weight:normal;font-family:'Liberation Sans', sans-serif;">消息内容</div>
<div style="left:1583px;top:876.3px;width:213px;height:115.3px;background:#232523;border:1px solid #6a6a6a;border-radius:12px;box-sizing:border-box;box-shadow:inset 0 0 6px rgba(0,0,0,0.5)"></div>
<div class="t" style="left:1601.5px;top:877px;line-height:40px;font-size:12px;color:#aaaaaa;font-weight:normal;font-family:'Liberation Sans', sans-serif;">消息内容</div>
<div style="left:85px;top:1043px;width:250px;height:110px;background:#335533"></div>
<div style="left:85px;top:1043px;width:250px;height:36px;background:#223322"></div>
<div style="left:96px;top:1054px;width:14px;height:14px;background:#000;border-radius:7px;filter:blur(0.6px)"></div>
<div style="left:97px;top:1055px;width:12px;height:12px;background:#686868"></div>
<div class="t" style="left:120px;top:1041.5px;line-height:40px;font-size:17px;color:#999999;font-weight:normal;font-family:'Liberation Sans', sans-serif;">Python代码输入</div>
<svg style="position:absolute;left:308.5px;top:1055px" width="15" height="15" viewBox="0 0 15 15"><path d="M7.6 1.2H3.4a2.6 2.6 0 0 0-2.6 2.6v7.6a2.6 2.6 0 0 0 2.6 2.6h7.6a2.6 2.6 0 0 0 2.6-2.6V7" fill="none" stroke="#999" stroke-width="1.3"/><path d="M6.9 7.3L13.6 0.8" fill="none" stroke="#999" stroke-width="1.3"/></svg>
<div style="left:319px;top:1090.3px;width:10px;height:10px;background:#77ff77"></div>
<div class="t" style="left:-688.5px;width:1000px;text-align:right;top:1075.3px;line-height:40px;font-size:14px;color:#999999;font-weight:normal;font-family:'Liberation Sans', sans-serif;">策略代码</div>
<div style="left:102.7px;top:1109px;width:214.5px;height:30.3px;background:#1a221a;border:1px solid #666;box-sizing:border-box"></div>
<div class="t" style="left:-290.1px;width:1000px;text-align:center;top:1104.2px;line-height:40px;font-size:14px;color:#dddddd;font-weight:bold;font-family:'Liberation Sans', sans-serif;">策略代码</div>
<div style="left:505px;top:1042px;width:250px;height:214px;background:#333355"></div>
<div style="left:505px;top:1042px;width:250px;height:36px;background:#222233"></div>
<div style="left:516px;top:1053px;width:14px;height:14px;background:#000;border-radius:7px;filter:blur(0.6px)"></div>
<div style="left:517px;top:1054px;width:12px;height:12px;background:#686868"></div>
<div class="t" style="left:540px;top:1040.5px;line-height:40px;font-size:17px;color:#999999;font-weight:normal;font-family:'Liberation Sans', sans-serif;">技能</div>
<svg style="position:absolute;left:728.5px;top:1054px" width="15" height="15" viewBox="0 0 15 15"><path d="M7.6 1.2H3.4a2.6 2.6 0 0 0-2.6 2.6v7.6a2.6 2.6 0 0 0 2.6 2.6h7.6a2.6 2.6 0 0 0 2.6-2.6V7" fill="none" stroke="#999" stroke-width="1.3"/><path d="M6.9 7.3L13.6 0.8" fill="none" stroke="#999" stroke-width="1.3"/></svg>
<div style="left:512px;top:1089px;width:10px;height:10px;background:#77ff77"></div>
<div class="t" style="left:529px;top:1074px;line-height:40px;font-size:14px;color:#999999;font-weight:normal;font-family:'Liberation Sans', sans-serif;">代码</div>
<svg style="position:absolute;left:739px;top:1089px" width="10.5" height="10.5" viewBox="0 0 10.5 10.5"><rect x="0.20" y="0.20" width="2.6" height="2.6" rx="0.6" fill="#77ff77"/><rect x="0.20" y="3.75" width="2.6" height="2.6" rx="0.6" fill="#77ff77"/><rect x="0.20" y="7.30" width="2.6" height="2.6" rx="0.6" fill="#77ff77"/><rect x="3.75" y="0.20" width="2.6" height="2.6" rx="0.6" fill="#77ff77"/><rect x="3.75" y="3.75" width="2.6" height="2.6" rx="0.6" fill="#77ff77"/><rect x="3.75" y="7.30" width="2.6" height="2.6" rx="0.6" fill="#77ff77"/><rect x="7.30" y="0.20" width="2.6" height="2.6" rx="0.6" fill="#77ff77"/><rect x="7.30" y="3.75" width="2.6" height="2.6" rx="0.6" fill="#77ff77"/><rect x="7.30" y="7.30" width="2.6" height="2.6" rx="0.6" fill="#77ff77"/></svg>
<div class="t" style="left:-268.5px;width:1000px;text-align:right;top:1074px;line-height:40px;font-size:14px;color:#999999;font-weight:normal;font-family:'Liberation Sans', sans-serif;">Skills</div>
<div style="left:523px;top:1108.3px;width:213.6px;height:29.8px;background:#18161f;border:1px solid #6a6a6a;border-radius:14.9px;box-sizing:border-box"></div>
<div class="t" style="left:542px;top:1104.2px;line-height:40px;font-size:14px;color:#999999;font-weight:normal;font-family:'Liberation Sans', sans-serif;">Name</div>
<div class="t" style="left:-281.4px;width:1000px;text-align:right;top:1104.2px;line-height:40px;font-size:14.2px;color:#dddddd;font-weight:normal;font-family:'Liberation Sans', sans-serif;-webkit-text-stroke:0.25px #ddd">bll</div>
<div style="left:523px;top:1142.9px;width:213.6px;height:29.8px;background:#18161f;border:1px solid #6a6a6a;border-radius:14.9px;box-sizing:border-box"></div>
<div class="t" style="left:542px;top:1138.8px;line-height:40px;font-size:14px;color:#999999;font-weight:normal;font-family:'Liberation Sans', sans-serif;">Description</div>
<div class="t" style="left:-281.4px;width:1000px;text-align:right;top:1138.8px;line-height:40px;font-size:14.2px;color:#dddddd;font-weight:normal;font-family:'Liberation Sans', sans-serif;-webkit-text-stroke:0.25px #ddd">布林带分析</div>
<div style="left:523px;top:1177.5px;width:213.6px;height:29.8px;background:#18161f;border:1px solid #6a6a6a;border-radius:14.9px;box-sizing:border-box"></div>
<div class="t" style="left:542px;top:1173.4px;line-height:40px;font-size:14px;color:#999999;font-weight:normal;font-family:'Liberation Sans', sans-serif;">Params</div>
<div style="left:523px;top:1212.1px;width:213.6px;height:29.8px;background:#18161f;border:1px solid #6a6a6a;border-radius:14.9px;box-sizing:border-box"></div>
<svg style="position:absolute;left:530.5px;top:1218px" width="13" height="18" viewBox="0 0 13 18"><polygon points="12,0 0,9 12,18" fill="#dddddd"/></svg>
<svg style="position:absolute;left:717.1px;top:1218px" width="13" height="18" viewBox="0 0 13 18"><polygon points="0,0 12,9 0,18" fill="#dddddd"/></svg>
<div class="t" style="left:547px;top:1208px;line-height:40px;font-size:14px;color:#999999;font-weight:normal;font-family:'Liberation Sans', sans-serif;">超时时间（秒）</div>
<div class="t" style="left:-305.4px;width:1000px;text-align:right;top:1208px;line-height:40px;font-size:14.2px;color:#dddddd;font-weight:normal;font-family:'Liberation Sans', sans-serif;-webkit-text-stroke:0.25px #ddd">60</div>
</body></html>
